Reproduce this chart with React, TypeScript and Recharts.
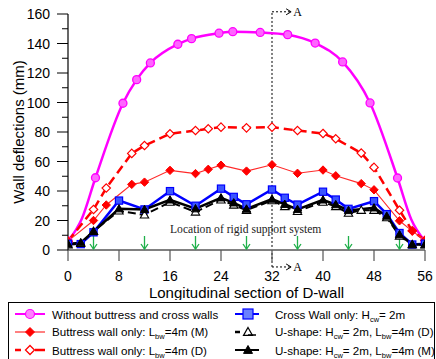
import { LineChart, Line, XAxis, YAxis, ReferenceLine, ReferenceDot } from "recharts";

// x positions (m) and deflections (mm)
const withoutX = [0, 2.15, 4.31, 8.62, 10.77, 12.92, 17.23, 19.38, 23.69, 25.85, 30.15, 34.46, 38.77, 43.08, 47.38, 51.69, 53.85, 56];
const withoutY = [6, 21, 49, 99.5, 115.5, 126.8, 139.5, 143.3, 147, 148, 147.5, 146, 140.3, 127.5, 99.7, 48.8, 20.7, 6];
const withoutNoMarker = [2.15, 53.85];

const buttressX = [0, 4, 6, 10, 12, 16, 20, 22, 24, 28, 32, 36, 40, 42, 46, 48, 52, 54, 56];
const buttressMY = [6, 20, 30.5, 44.5, 46, 54, 51.8, 54.7, 57.5, 53.5, 57.8, 52, 54.2, 50.3, 45, 40.8, 19.8, 12.8, 6.6];
const buttressDY = [6, 27.5, 42, 65.5, 70.8, 78.8, 81, 82.2, 83.3, 82.8, 83.3, 81, 79, 75.4, 65.7, 56, 27, 13, 6.6];

const crossX = [0, 2, 4, 8, 12, 16, 20, 24, 26, 28, 32, 34, 36, 40, 42, 44, 48, 50, 52, 54, 56];
const crossY = [4.2, 4, 12, 33.5, 27.5, 39.9, 30, 41.6, 36, 31, 41, 35.4, 30.8, 39.5, 34.2, 27.9, 33.1, 24.3, 11.5, 3.7, 4.3];
const uShapeMY = [4, 5, 12.5, 28, 27.5, 34, 28, 35.4, 32, 27.8, 34.5, 31, 27.5, 34, 30.8, 26.8, 28.6, 23, 10.5, 3.7, 3.7];

const uShapeDX = [0, 2, 4, 8, 12, 16, 20, 24, 26, 28, 32, 34, 36, 40, 42, 44, 46, 48, 50, 52, 54, 56];
const uShapeDY = [3.5, 4.5, 12.7, 26.5, 23.8, 32.5, 25.8, 34, 30.5, 27, 33.5, 29.5, 26.2, 32.5, 29.5, 25, 27, 27, 22, 9.5, 3.7, 3.5];

const supportX = [4, 12, 20, 28, 36, 44, 52];
const xTicks = [0, 8, 16, 24, 32, 40, 48, 56];
const yTicks = [0, 10, 20, 30, 40, 50, 60, 70, 80, 90, 100, 110, 120, 130, 140, 150, 160];

const zip = (xs: number[], ys: number[]) => xs.map((x, i) => ({ x, y: ys[i] }));

const SANS = "'Liberation Sans', Arial, sans-serif";
const SERIF = "'Liberation Serif', 'Times New Roman', serif";

const diamond = (cx: number, cy: number, r: number) =>
  `M${cx},${cy - r}L${cx + r},${cy}L${cx},${cy + r}L${cx - r},${cy}Z`;
const triangle = (cx: number, cy: number, r: number) =>
  `M${cx},${cy - r}L${cx + r},${cy + r * 0.75}L${cx - r},${cy + r * 0.75}Z`;

const XTick = ({ x, y, payload }: any) => (
  <g>
    <line x1={x} x2={x} y1={y} y2={y + 11} stroke="#555" strokeWidth={1.2} />
    <text x={x} y={y + 31} textAnchor="middle" fontSize={14} fontFamily={SANS} fill="#000">
      {payload.value}
    </text>
  </g>
);

const YTick = ({ x, y, payload }: any) => {
  const major = payload.value % 20 === 0;
  return (
    <g>
      <line x1={x - (major ? 11 : 6)} x2={x} y1={y} y2={y} stroke="#000" />
      {major && (
        <text x={x - 18} y={y + 5} textAnchor="end" fontSize={14} fontFamily={SANS} fill="#000">
          {payload.value}
        </text>
      )}
    </g>
  );
};

const SectionLabel = ({ viewBox }: any) => {
  const x = viewBox.x + viewBox.width;
  const y = viewBox.y;
  return (
    <g>
      <path d={`M${x - 5},${y - 3}L${x},${y}L${x - 5},${y + 3}`} fill="none" stroke="#000" strokeWidth={1} />
      <text x={x + 2} y={y + 4} fontSize={12} fontFamily={SERIF} fill="#000">A</text>
    </g>
  );
};

const GreenArrow = ({ cx, cy }: any) => (
  <g stroke="#1fb04a" strokeWidth={1.3} fill="none">
    <line x1={cx} x2={cx} y1={cy - 14} y2={cy - 1} />
    <path d={`M${cx - 3.5},${cy - 6}L${cx},${cy - 1}L${cx + 3.5},${cy - 6}`} />
  </g>
);

const LegendItem = ({ left, top, icon, children }: any) => (
  <div
    style={{
      position: "absolute",
      left,
      top,
      height: 18,
      display: "flex",
      alignItems: "center",
      fontFamily: SANS,
      fontSize: 11.6,
      whiteSpace: "nowrap",
    }}
  >
    <svg width={40} height={18}>
      {icon}
    </svg>
    <span>{children}</span>
  </div>
);

const Sub = ({ children }: any) => (
  <span style={{ fontSize: 7.5, position: "relative", top: 3 }}>{children}</span>
);

export default function App() {
  return (
    <div style={{ position: "absolute", left: 0, top: 0, width: 436, height: 359, background: "#fff", overflow: "hidden" }}>
      <LineChart width={436} height={300} margin={{ top: 14, right: 11, bottom: 0, left: 0 }}>
        <XAxis
          type="number"
          dataKey="x"
          domain={[0, 56]}
          ticks={xTicks}
          interval={0}
          tickLine={false}
          tickSize={0}
          tickMargin={0}
          axisLine={{ stroke: "#808080", strokeWidth: 2 }}
          tick={<XTick />}
          height={50}
          allowDataOverflow
          label={{
            content: ({ viewBox }: any) => (
              <text
                x={viewBox.x + viewBox.width / 2}
                y={viewBox.y + 48}
                textAnchor="middle"
                fontSize={15}
                fontFamily={SANS}
                fill="#000"
              >
                Longitudinal section of D-wall
              </text>
            ),
          }}
        />
        <YAxis
          type="number"
          domain={[0, 160]}
          ticks={yTicks}
          interval={0}
          tickLine={false}
          tickSize={0}
          tickMargin={0}
          axisLine={{ stroke: "#000", strokeWidth: 1.2 }}
          tick={<YTick />}
          width={68}
          allowDataOverflow
          label={{
            content: ({ viewBox }: any) => {
              const cx = viewBox.x + 18;
              const cy = viewBox.y + viewBox.height / 2;
              return (
                <text
                  x={cx}
                  y={cy}
                  transform={`rotate(-90 ${cx} ${cy})`}
                  textAnchor="middle"
                  dominantBaseline="central"
                  fontSize={15}
                  fontFamily={SANS}
                  fill="#000"
                >
                  Wall deflections (mm)
                </text>
              );
            },
          }}
        />

        <ReferenceLine
          segment={[{ x: 32, y: -11.5 }, { x: 32, y: 161.5 }]}
          stroke="#000"
          strokeDasharray="2 2"
          ifOverflow="visible"
        />
        <ReferenceLine
          segment={[{ x: 32, y: 161.5 }, { x: 35, y: 161.5 }]}
          stroke="#000"
          strokeDasharray="2 2"
          ifOverflow="visible"
          label={<SectionLabel />}
        />
        <ReferenceLine
          segment={[{ x: 32, y: -11.5 }, { x: 35, y: -11.5 }]}
          stroke="#000"
          strokeDasharray="2 2"
          ifOverflow="visible"
          label={<SectionLabel />}
        />
        {supportX.map((sx) => (
          <ReferenceDot key={sx} x={sx} y={0} ifOverflow="visible" shape={<GreenArrow />} />
        ))}
        <ReferenceDot
          x={16}
          y={14.2}
          ifOverflow="visible"
          shape={({ cx, cy }: any) => (
            <text x={cx} y={cy + 4} fontSize={11.6} fontFamily={SERIF} fill="#222">
              Location of rigid support system
            </text>
          )}
        />

        <Line
          data={zip(withoutX, withoutY)}
          dataKey="y"
          type="monotone"
          stroke="#ff00ff"
          strokeWidth={2.5}
          isAnimationActive={false}
          dot={(p: any) =>
            withoutNoMarker.includes(p.payload.x) ? (
              <g key={p.index} />
            ) : (
              <circle key={p.index} cx={p.cx} cy={p.cy} r={4} fill="#ff66ff" stroke="#ff00ff" strokeWidth={1.3} />
            )
          }
        />
        <Line
          data={zip(buttressX, buttressDY)}
          dataKey="y"
          type="linear"
          stroke="#ff0000"
          strokeWidth={2.5}
          strokeDasharray="9 5"
          isAnimationActive={false}
          dot={(p: any) => (
            <path key={p.index} d={diamond(p.cx, p.cy, 4.2)} fill="#fff" stroke="#ff0000" strokeWidth={1.2} />
          )}
        />
        <Line
          data={zip(buttressX, buttressMY)}
          dataKey="y"
          type="linear"
          stroke="#ff2a2a"
          strokeWidth={1.1}
          isAnimationActive={false}
          dot={(p: any) => (
            <path key={p.index} d={diamond(p.cx, p.cy, 4.2)} fill="#ff0000" stroke="#ff0000" strokeWidth={1} />
          )}
        />
        <Line
          data={zip(crossX, crossY)}
          dataKey="y"
          type="linear"
          stroke="#0000ff"
          strokeWidth={2.5}
          isAnimationActive={false}
          dot={(p: any) => (
            <rect key={p.index} x={p.cx - 3.6} y={p.cy - 3.6} width={7.2} height={7.2} fill="#3a55ff" stroke="#0000ff" strokeWidth={1.2} />
          )}
        />
        <Line
          data={zip(uShapeDX, uShapeDY)}
          dataKey="y"
          type="linear"
          stroke="#000"
          strokeWidth={2}
          strokeDasharray="8 4"
          isAnimationActive={false}
          dot={(p: any) => (
            <path key={p.index} d={triangle(p.cx, p.cy, 4.2)} fill="#fff" stroke="#000" strokeWidth={1.1} />
          )}
        />
        <Line
          data={zip(crossX, uShapeMY)}
          dataKey="y"
          type="linear"
          stroke="#000"
          strokeWidth={2.5}
          isAnimationActive={false}
          dot={(p: any) => (
            <path key={p.index} d={triangle(p.cx, p.cy, 4.2)} fill="#000" stroke="#000" strokeWidth={1} />
          )}
        />
      </LineChart>

      <div
        style={{
          position: "absolute",
          left: 8,
          top: 302,
          width: 427,
          height: 70,
          border: "1px solid #000",
          boxSizing: "border-box",
        }}
      />
      <LegendItem
        left={12}
        top={305}
        icon={
          <g>
            <line x1={3} x2={33} y1={9} y2={9} stroke="#ff00ff" strokeWidth={2} />
            <circle cx={18} cy={9} r={4.5} fill="#ff80ff" stroke="#ff00ff" strokeWidth={1.2} />
          </g>
        }
      >
        Without buttress and cross walls
      </LegendItem>
      <LegendItem
        left={12}
        top={322.7}
        icon={
          <g>
            <line x1={3} x2={33} y1={9} y2={9} stroke="#ff8080" strokeWidth={2} />
            <path d={diamond(18, 9, 4.5)} fill="#ff0000" stroke="#ff0000" />
          </g>
        }
      >
        Buttress wall only: L<Sub>bw</Sub>=4m (M)
      </LegendItem>
      <LegendItem
        left={12}
        top={341}
        icon={
          <g>
            <line x1={3} x2={9} y1={9} y2={9} stroke="#ff0000" strokeWidth={2.5} />
            <line x1={23} x2={33} y1={9} y2={9} stroke="#ff0000" strokeWidth={2.5} />
            <path d={diamond(18, 9, 4.5)} fill="#fff" stroke="#ff0000" strokeWidth={1.3} />
          </g>
        }
      >
        Buttress wall only: L<Sub>bw</Sub>=4m (D)
      </LegendItem>

      <LegendItem
        left={232}
        top={305}
        icon={
          <g>
            <line x1={3} x2={27} y1={9} y2={9} stroke="#0000ff" strokeWidth={2} />
            <rect x={11} y={4} width={10} height={10} fill="#6a80ff" stroke="#0000ff" strokeWidth={1.2} />
          </g>
        }
      >
        <span style={{ marginLeft: 3 }}>Cross Wall only: H<Sub>cw</Sub>= 2m</span>
      </LegendItem>
      <LegendItem
        left={232}
        top={322.7}
        icon={
          <g>
            <line x1={3} x2={8} y1={9} y2={9} stroke="#000" strokeWidth={2.5} />
            <path d={triangle(16, 9, 4.5)} fill="#fff" stroke="#000" strokeWidth={1.2} />
            <line x1={16} x2={24} y1={12} y2={12} stroke="#000" strokeWidth={1.5} />
          </g>
        }
      >
        <span style={{ marginLeft: 3 }}>U-shape: H<Sub>cw</Sub>= 2m, L<Sub>bw</Sub>=4m (D)</span>
      </LegendItem>
      <LegendItem
        left={232}
        top={341}
        icon={
          <g>
            <line x1={3} x2={27} y1={9} y2={9} stroke="#000" strokeWidth={2} />
            <path d={triangle(16, 9, 4.5)} fill="#000" stroke="#000" />
          </g>
        }
      >
        <span style={{ marginLeft: 3 }}>U-shape: H<Sub>cw</Sub>= 2m, L<Sub>bw</Sub>=4m (M)</span>
      </LegendItem>
    </div>
  );
}
